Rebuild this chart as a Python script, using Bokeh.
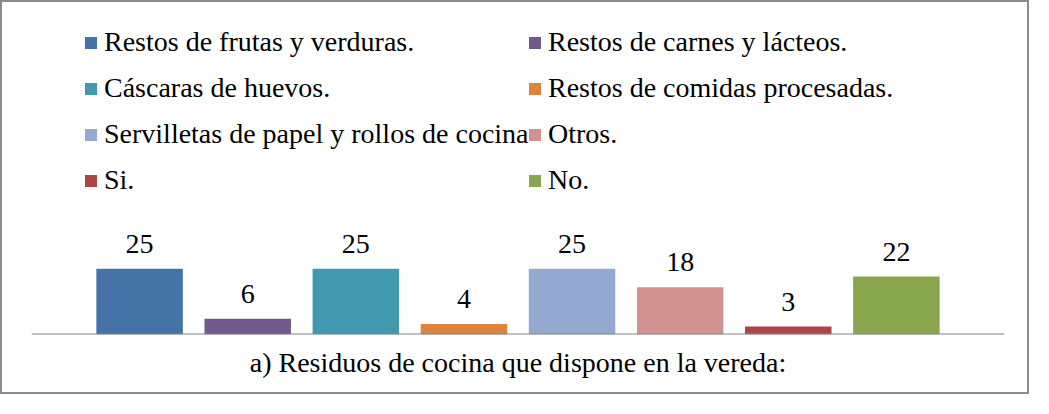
from bokeh.plotting import figure
from bokeh.models import ColumnDataSource, Legend, LegendItem, Span, Title
from bokeh.core.properties import value
from bokeh.embed import file_html
from bokeh.resources import INLINE

categories = [
    "Restos de frutas y verduras.",
    "Restos de carnes y lácteos.",
    "Cáscaras de huevos.",
    "Restos de comidas procesadas.",
    "Servilletas de papel y rollos de cocina",
    "Otros.",
    "Si.",
    "No.",
]
values = [25, 6, 25, 4, 25, 18, 3, 22]
colors = ["#4572A7", "#71588F", "#4198AF", "#DB843D",
          "#93A9CF", "#D19392", "#AA4643", "#89A54E"]
title_text = "a) Residuos de cocina que dispone en la vereda:"

FONT = "Liberation Serif"
FS = "28px"

positions = list(range(1, len(values) + 1))
src = ColumnDataSource(dict(x=positions, top=values, color=colors,
                            label=[str(v) for v in values], name=categories))

p = figure(width=1029, height=394, output_backend="svg", toolbar_location=None,
           x_range=(0, 9), y_range=(0, 126.2),
           x_axis_location=None, y_axis_location=None,
           min_border_left=29, min_border_right=27, min_border_top=0,
           min_border_bottom=62)
p.styles = {"border": "2px solid #8c8c8c"}
p.grid.visible = False
p.outline_line_color = None
p.background_fill_color = "white"

bars = p.vbar(x="x", top="top", width=0.8, bottom=0, source=src,
              fill_color="color", line_color=None)

p.text(x="x", y="top", text="label", source=src, text_align="center",
       text_baseline="alphabetic", y_offset=-25,
       text_font=value(FONT), text_font_size=FS, text_color="#000000")

p.add_layout(Span(location=0, dimension="width", line_color="#868686", line_width=2))

def make_legend(idxs, x):
    items = [LegendItem(label=categories[i], renderers=[bars], index=i) for i in idxs]
    lg = Legend(items=items, location=(x, 138), orientation="vertical",
                glyph_width=15, glyph_height=15, label_standoff=6,
                label_height=30, spacing=14, padding=0, margin=0,
                label_text_font=FONT, label_text_font_size=FS,
                label_text_color="#000000",
                border_line_color=None, background_fill_alpha=0)
    return lg

p.add_layout(make_legend([0, 2, 4, 6], 52))
p.add_layout(make_legend([1, 3, 5, 7], 496))

t = Title(text=title_text, align="center", text_font=FONT, text_font_size=FS,
          text_font_style="normal", text_color="#000000", standoff=21)
p.add_layout(t, "below")

open("out.html", "w").write(file_html(p, INLINE))
